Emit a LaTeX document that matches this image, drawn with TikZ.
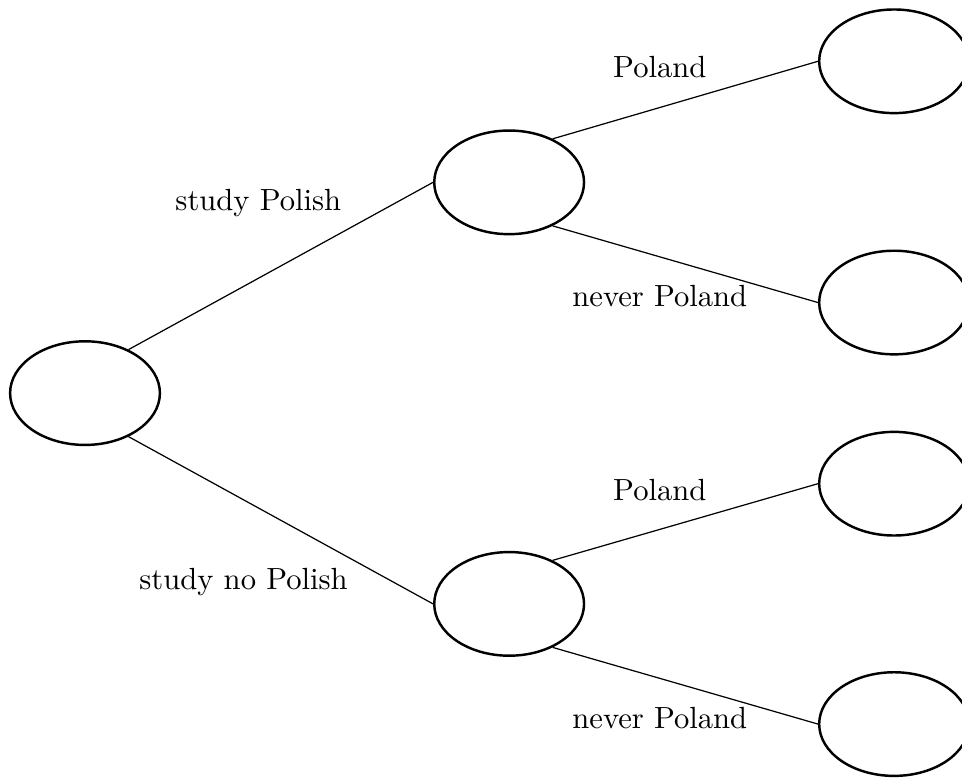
\documentclass[tikz,border=0pt]{standalone}
\usetikzlibrary{positioning,shapes.geometric}
\begin{document}
\begin{tikzpicture}[node distance= 2cm, on grid]
      \useasboundingbox (-0.976,-4.41) rectangle (10.07,4.514);
      \begin{scope}[every node/.style={ellipse,thick,draw,minimum width=1.72cm,minimum height=1.19cm}]
        \node (S) at (0,0) {};
        \node (P) [above right= 2.42cm and 4.87cm of S] {};
        \node (N) [below right= 2.42cm and 4.87cm of S] {};
        \node (PY) [above right= 1.39cm and 4.42cm of P] {};
        \node (PN) [below right= 1.38cm and 4.42cm of P] {};
        \node (NY) [above right= 1.38cm and 4.42cm of N] {};
        \node (NN) [below right= 1.38cm and 4.42cm of N] {};
      \end{scope}
      \node (lP) at (1.99,2.18) {study Polish};
      \node (lN) at (1.82,-2.17) {study no Polish};
      \node (lPY) at (6.6,3.74) {Poland};
      \node (lPN) at (6.6,1.11) {never Poland};
      \node (lNY) at (6.6,-1.11) {Poland};
      \node (lNN) at (6.6,-3.73) {never Poland};
      \begin{scope}
        [every edge/.style={draw= black, thin}]
        \path (S.45) edge (P.west);
        \path (S.-45) edge (N.west);
        \path (P.45) edge (PY.west);
        \path (P.-45) edge (PN.west);
        \path (N.45) edge (NY.west);
        \path (N.-45) edge (NN.west);
      \end{scope}
    \end{tikzpicture}
\end{document}
